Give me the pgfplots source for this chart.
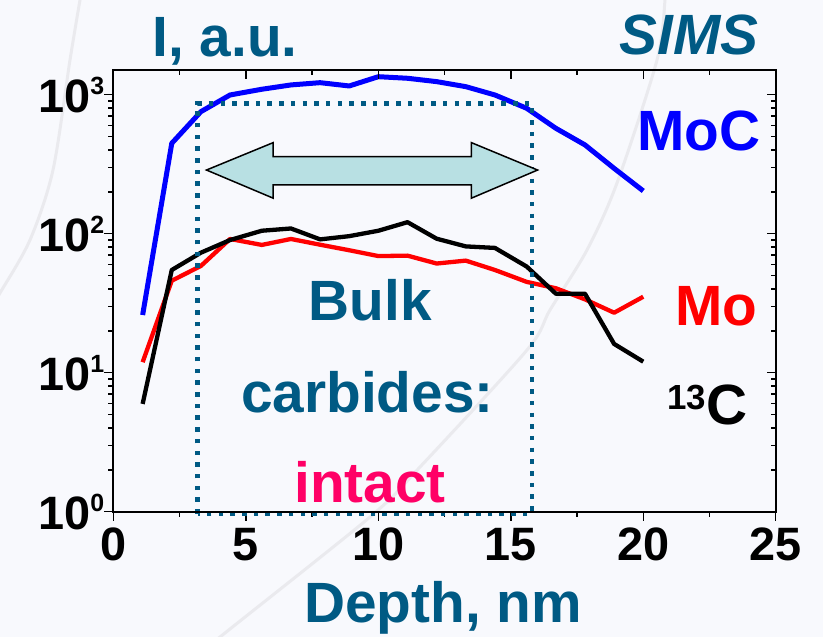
\documentclass[border=0pt]{standalone}
\usepackage{pgfplots}
\pgfplotsset{compat=1.18}
\usepackage{fontspec}
\setmainfont{Liberation Sans}
\definecolor{teal1}{RGB}{0,90,132}
\definecolor{pinkred}{RGB}{255,0,102}
\definecolor{arrowfill}{RGB}{184,224,227}
\definecolor{bg}{RGB}{248,249,253}
\definecolor{arcgray}{RGB}{234,234,238}
\newcommand{\tp}[1]{10\raisebox{18bp}{\fontsize{25}{25}\selectfont #1}}
\newcommand{\bigtxt}{\fontsize{57}{57}\selectfont\bfseries}
\begin{document}
\begin{tikzpicture}[x=1bp,y=1bp]
\fill[bg] (-113.5,-125.3) rectangle (709.5,511.7);
\begin{scope}
\clip (-113.5,-125.3) rectangle (709.5,511.7);
\draw[arcgray, line width=3bp] plot[smooth] coordinates {(551.5,530)(551.5,511.7)(543.5,451.7)(503.5,328.7)(473.5,261.7)(436.5,201.7)(413.5,161.7)(306.5,44.7)(256.5,-5.3)(106.5,-125.3)(90,-140)};
\draw[arcgray, line width=3bp] plot[smooth] coordinates {(-30,530)(-33.5,511.7)(-43.5,451.7)(-60.5,341.7)(-83.5,271.7)(-113.5,218.7)(-125,200)};
\end{scope}
\begin{axis}[at={(0,0)}, anchor=south west, scale only axis,
  width=662.2bp, height=441.7bp,
  xmin=0, xmax=25, ymin=1, ymax=1505, ymode=log,
  clip=false,
  axis line style={line width=2bp},
  every tick/.style={black, line width=1.5bp},
  major tick length=9bp, minor tick length=5bp,
  tick align=outside,
  xtick pos=left, ytick pos=left,
  xtick={0,5,10,15,20,25}, xticklabels={0,5,10,15,20,25},
  minor xtick={2.5,7.5,12.5,17.5,22.5},
  ytick={1,10,100,1000}, yticklabels={\tp{0},\tp{1},\tp{2},\tp{3}},
  minor ytick={2,3,4,5,6,7,8,9,20,30,40,50,60,70,80,90,200,300,400,500,600,700,800,900},
  tick label style={font=\fontsize{47}{47}\selectfont\bfseries, inner sep=0pt},
  xticklabel style={anchor=north, yshift=-7bp},
  yticklabel style={anchor=east},
]
\addplot[blue, line width=5bp, line join=round] coordinates {
(1.1,26) (2.2,447) (3.3,755) (4.4,995) (5.6,1094) (6.7,1175) (7.8,1220) (8.9,1155) (10.0,1347) (11.1,1312) (12.2,1241) (13.3,1142) (14.4,995) (15.6,798) (16.7,573) (17.8,435) (18.9,295) (20.0,203)};
\addplot[red, line width=4.3bp, line join=round] coordinates {
(1.1,11.9) (2.2,45.9) (3.3,58.6) (4.4,91.6) (5.6,83) (6.7,91.6) (7.8,83.3) (8.9,76) (10.0,69) (11.1,69.5) (12.2,61) (13.3,64) (14.4,54.8) (15.6,45) (16.7,40.5) (17.8,33.7) (18.9,27) (20.0,35.2)};
\addplot[black, line width=4.3bp, line join=round] coordinates {
(1.1,5.96) (2.2,54.8) (3.3,73) (4.4,90) (5.6,105) (6.7,109) (7.8,91) (8.9,96) (10.0,105) (11.1,121) (12.2,92) (13.3,81) (14.4,79) (15.6,58) (16.7,37) (17.8,37) (18.9,16.1) (20.0,12)};
\draw[teal1, line width=4.5bp, dash pattern=on 4.5bp off 7.2bp] (axis cs:3.18,0.97) -- (axis cs:3.18,863) -- (axis cs:15.79,863) -- (axis cs:15.79,0.97) -- cycle;
\draw[black, fill=arrowfill, line width=1.5bp] (axis cs:3.51,287) -- (axis cs:6.03,452) -- (axis cs:6.03,358) -- (axis cs:13.51,358) -- (axis cs:13.51,452) -- (axis cs:16.01,287) -- (axis cs:13.51,180) -- (axis cs:13.51,224) -- (axis cs:6.03,224) -- (axis cs:6.03,180) -- cycle;
\end{axis}
\begin{axis}[at={(0,0)}, anchor=south west, scale only axis,
  width=662.2bp, height=441.7bp,
  xmin=0, xmax=25, ymin=1, ymax=1505, ymode=log,
  axis line style={line width=2bp},
  every tick/.style={black, line width=1.5bp},
  major tick length=9bp, minor tick length=5bp,
  tick align=inside,
  xtick pos=right, ytick pos=right,
  xtick={0,5,10,15,20,25}, xticklabels={},
  minor xtick={2.5,7.5,12.5,17.5,22.5},
  ytick={1,10,100,1000}, yticklabels={},
  minor ytick={2,3,4,5,6,7,8,9,20,30,40,50,60,70,80,90,200,300,400,500,600,700,800,900},
]
\end{axis}
\node[teal1, anchor=base, inner sep=0] at (111.5,454.7) {\bigtxt I, a.u.};
\node[teal1, anchor=base, inner sep=0] at (575.5,456.7) {\bigtxt\itshape SIMS};
\node[blue, anchor=base, inner sep=0] at (585.5,360.7) {\bigtxt MoC};
\node[red, anchor=base, inner sep=0] at (602.5,185.7) {\bigtxt Mo};
\node[black, anchor=base, inner sep=0] at (594,86.7) {\bigtxt\raisebox{15.8bp}{\fontsize{35}{35}\selectfont 13}C};
\node[teal1, anchor=base, inner sep=0] at (257,190.7) {\bigtxt Bulk};
\node[teal1, anchor=base, inner sep=0] at (254,98.7) {\bigtxt carbides:};
\node[pinkred, anchor=base, inner sep=0] at (256.5,8.7) {\bigtxt intact};
\node[teal1, anchor=base, inner sep=0] at (329.5,-111.3) {\bigtxt Depth, nm};
\end{tikzpicture}
\end{document}
